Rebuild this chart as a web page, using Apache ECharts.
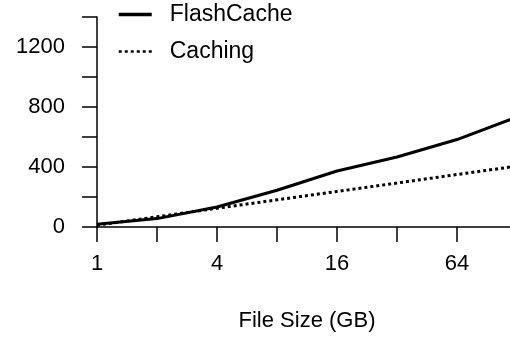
<!DOCTYPE html>
<html>
<head>
    <meta charset="utf-8">
    <title>FlashCache</title>
    <script src="https://cdn.jsdelivr.net/npm/echarts@6/dist/echarts.min.js"></script>
</head>
<body style="margin:0">
<div id="main" style="width:510px;height:338px;"></div>
<script type="text/javascript">
    // file sizes (GB), log2 spacing
    var sizes = ['1', '2', '4', '8', '16', '32', '64', '128'];
    var flashCache = [18, 56, 133, 245, 373, 467, 583, 733];
    var caching = [12, 68, 125, 181, 237, 293, 350, 406];
    var shownSizes = ['1', '4', '16', '64'];
    var yLabels = [0, 400, 800, 1200];

    var font = 'Liberation Sans, Arial, Helvetica, sans-serif';
    var myChart = echarts.init(document.getElementById('main'));

    var option = {
        animation: false,
        backgroundColor: '#fff',
        textStyle: {fontFamily: font, color: '#000'},
        legend: {
            orient: 'vertical',
            left: 112,
            top: -2,
            itemWidth: 33,
            itemHeight: 14,
            itemGap: 14,
            itemStyle: {opacity: 0},
            textStyle: {fontSize: 23, color: '#000', padding: [0, 0, 0, 13]},
            data: [
                {name: 'FlashCache', lineStyle: {width: 3.5}},
                {name: 'Caching', lineStyle: {width: 2.5, type: [3, 3]}}
            ]
        },
        grid: {left: 97, top: 17, bottom: 111, width: 420, outerBoundsMode: 'none', containLabel: false},
        xAxis: {
            type: 'category',
            boundaryGap: false,
            data: sizes,
            name: 'File Size (GB)',
            nameLocation: 'middle',
            nameGap: 83,
            nameTextStyle: {fontSize: 22, color: '#000'},
            axisLine: {lineStyle: {color: '#000', width: 1.5}},
            axisTick: {interval: 0, length: 15, lineStyle: {color: '#000', width: 1.5}},
            axisLabel: {
                interval: 0, margin: 26, fontSize: 22, color: '#000',
                formatter: function (v) { return shownSizes.indexOf(v) >= 0 ? v : ''; }
            },
            splitLine: {show: false}
        },
        yAxis: {
            type: 'value',
            min: 0,
            max: 1400,
            interval: 200,
            axisLine: {show: true, lineStyle: {color: '#000', width: 1.5}},
            axisTick: {show: true, length: 15, lineStyle: {color: '#000', width: 1.5}},
            axisLabel: {
                margin: 32, fontSize: 22, color: '#000',
                formatter: function (v) { return yLabels.indexOf(v) >= 0 ? String(v) : ''; }
            },
            splitLine: {show: false}
        },
        series: [{
            name: 'FlashCache',
            type: 'line',
            data: flashCache,
            symbol: 'none',
            itemStyle: {color: '#000'},
            lineStyle: {color: '#000', width: 3}
        }, {
            name: 'Caching',
            type: 'line',
            data: caching,
            symbol: 'none',
            itemStyle: {color: '#000'},
            lineStyle: {color: '#000', width: 3, type: [3, 3]}
        }]
    };

    myChart.setOption(option);
</script>
</body>
</html>
